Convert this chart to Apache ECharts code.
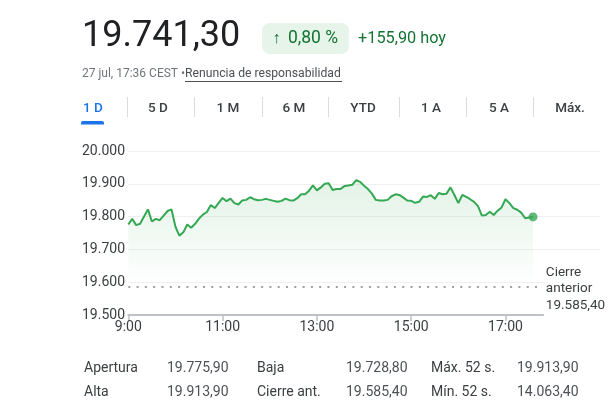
<!DOCTYPE html>
<html><head><meta charset="utf-8">
<script src="https://cdn.jsdelivr.net/npm/echarts@6/dist/echarts.min.js"></script>
<style>html,body{margin:0;padding:0;background:#fff}#c{width:613px;height:419px}</style>
</head><body><div id="c"></div><script>
const price = '19.741,30';
const changeArrow = '↑';
const changePct = '0,80 %';
const changeAbs = '+155,90 hoy';
const timestamp = '27 jul, 17:36 CEST • ';
const disclaimer = 'Renuncia de responsabilidad';
const tabs = ['1 D','5 D','1 M','6 M','YTD','1 A','5 A','Máx.'];
const startTime = '9:00';
const stepMinutes = 5;
const values = [
19776,19793,19774,19778,19800,19822,19785,19793,19789,19803,19817,19822,
19769,19742,19752,19776,19766,19778,19794,19806,19814,19835,19826,19842,
19857,19847,19855,19841,19837,19849,19851,19859,19853,19850,19851,19854,
19851,19848,19845,19848,19855,19850,19849,19856,19868,19868,19879,19895,
19880,19889,19900,19902,19881,19884,19884,19893,19895,19897,19911,19906,
19894,19884,19870,19851,19849,19849,19851,19862,19868,19866,19858,19849,
19848,19842,19845,19861,19860,19865,19854,19872,19868,19870,19889,19866,
19841,19866,19860,19853,19845,19832,19803,19805,19815,19805,19818,19828,
19853,19841,19826,19821,19812,19795,19797,19799];
const prevClose = 19585.40;
const prevCloseLabel = 'Cierre\nanterior\n19.585,40';
const yMin = 19500, yMax = 20000, yStep = 100;
const xTickLabels = ['9:00','11:00','13:00','15:00','17:00'];
const xRangeEnd = '19:00';
const prevLineEnd = '17:45';
const statLabels1 = ['Apertura','Baja','Máx. 52 s.'];
const statValues1 = ['19.775,90','19.728,80','19.913,90'];
const statLabels2 = ['Alta','Cierre ant.','Mín. 52 s.'];
const statValues2 = ['19.913,90','19.585,40','14.063,40'];

const toMin = s => { const [h,m] = s.split(':').map(Number); return h*60+m; };
const t0 = toMin(startTime);
const lineData = values.map((v,i) => [t0 + i*stepMinutes, v]);
const lastPoint = lineData[lineData.length-1];
const fmtTime = m => Math.floor(m/60) + ':' + String(m%60).padStart(2,'0');
const fmtNum = v => String(v).replace(/\B(?=(\d{3})+(?!\d))/g, '.');

const FONT = 'Roboto, "Noto Sans", Arial, sans-serif';
const chart = echarts.init(document.getElementById('c'), null, {renderer:'canvas'});

const g = [];
g.push({type:'text', style:{text:price, x:82, y:37, font:'36px '+FONT, fill:'#202124', verticalAlign:'middle'}});
g.push({type:'rect', shape:{x:262, y:23, width:87, height:31, r:8}, style:{fill:'#e6f4ea'}});
g.push({type:'text', style:{text:changeArrow, x:276.5, y:39, font:'16px '+FONT, fill:'#137333', align:'center', verticalAlign:'middle'}});
g.push({type:'text', style:{text:changePct, x:288, y:39, font:'17.5px '+FONT, fill:'#137333', verticalAlign:'middle'}});
g.push({type:'text', style:{text:changeAbs, x:358, y:39, font:'16.3px '+FONT, fill:'#137333', verticalAlign:'middle'}});
g.push({type:'text', style:{text:timestamp, x:82, y:74, font:'12px '+FONT, fill:'#70757a', verticalAlign:'middle'}});
g.push({type:'text', style:{text:disclaimer, x:185, y:74, font:'12.2px '+FONT, fill:'#4d5156', verticalAlign:'middle'}});
g.push({type:'line', shape:{x1:185, y1:81.5, x2:342, y2:81.5}, style:{stroke:'#4d5156', lineWidth:1}});
const tabCenters = [93,158,228,294,363,431,499,570];
const seps = [127,194,262,328,399,466,533];
tabs.forEach((t,i) => {
  g.push({type:'text', style:{text:t, x:tabCenters[i], y:109, font:'500 13.5px '+FONT, fill: i===0?'#1a73e8':'#3c4043', align:'center', verticalAlign:'middle'}});
});
seps.forEach(x => g.push({type:'line', shape:{x1:x+0.5, y1:97, x2:x+0.5, y2:117}, style:{stroke:'#dadce0', lineWidth:1}}));
g.push({type:'rect', shape:{x:81, y:121, width:23, height:3.5, r:[2,2,0,0]}, style:{fill:'#1a73e8'}});
const colX = [84,167,257,346,431,517];
[[statLabels1,statValues1,368],[statLabels2,statValues2,392]].forEach(([ls,vs,y]) => {
  ls.forEach((l,i) => {
    g.push({type:'text', style:{text:l, x:colX[i*2], y:y, font:'14px '+FONT, fill:'#3c4043', verticalAlign:'middle'}});
    g.push({type:'text', style:{text:vs[i], x:colX[i*2+1], y:y, font:'14px '+FONT, fill:'#4d5156', verticalAlign:'middle'}});
  });
});

const xTicks = xTickLabels.map(toMin);
chart.setOption({
  animation:false,
  backgroundColor:'#fff',
  grid:{left:128.3, right:13.2, top:151, bottom:104},
  xAxis:{type:'value', min:t0, max:toMin(xRangeEnd),
    axisLine:{show:true, lineStyle:{color:'#bdc1c6', width:2}},
    axisTick:{show:true, length:6, lineStyle:{color:'#bdc1c6', width:1.5}, customValues:xTicks},
    axisLabel:{customValues:xTicks, formatter:fmtTime, color:'#3c4043', fontSize:14, fontFamily:FONT, margin:5},
    splitLine:{show:false}},
  yAxis:{type:'value', min:yMin, max:yMax, interval:yStep,
    axisLine:{show:false}, axisTick:{show:false},
    axisLabel:{formatter:fmtNum, align:'left', margin:46.3, color:'#3c4043', fontSize:14, fontFamily:FONT},
    splitLine:{lineStyle:{color:'#efefef', width:1}}},
  series:[
    {type:'line', data:lineData, symbol:'none', lineStyle:{color:'#34a853', width:2}, z:3,
     areaStyle:{origin:prevClose, color:new echarts.graphic.LinearGradient(0,0,0,1,[
       {offset:0, color:'rgba(52,168,83,0.2)'},{offset:1, color:'rgba(52,168,83,0.0)'}])},
     markLine:{silent:true, symbol:'none', animation:false,
       lineStyle:{color:'#9aa0a6', width:2, type:[2,6.3]},
       label:{show:true, position:'end', formatter:prevCloseLabel, color:'#3c4043', fontSize:13.5,
         fontFamily:FONT, lineHeight:16.3, backgroundColor:'#fff', padding:[5,8,4,2], distance:3,
         align:'left', offset:[0,2]},
       data:[[{coord:[t0, prevClose]},{coord:[toMin(prevLineEnd), prevClose]}]]}},
    {type:'scatter', data:[lastPoint], symbol:'circle', symbolSize:9, itemStyle:{color:'#34a853'}, z:4}
  ],
  graphic:g
});
</script></body></html>
